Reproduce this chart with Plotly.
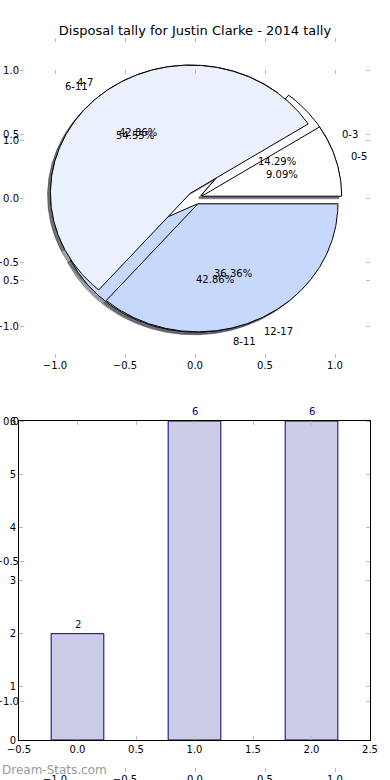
import numpy as np
import plotly.graph_objects as go

TITLE = "Disposal tally for Justin Clarke - 2014 tally"
WATERMARK = "Dream-Stats.com"

# two overlapping pies (same axes)
pie_a_labels = ["0-3", "4-7", "8-11"]
pie_a_values = [2, 6, 6]
pie_b_labels = ["0-5", "6-11", "12-17"]
pie_b_values = [1, 6, 4]
slice_colors = ["#ffffff", "#eaf1fd", "#c6d9fd"]

# bar chart
bar_categories = [0, 1, 2]
bar_values = [2, 6, 6]

pie_ticks = [-1.0, -0.5, 0.0, 0.5, 1.0]
bar_x_ticks = [-0.5, 0.0, 0.5, 1.0, 1.5, 2.0, 2.5]
bar_y_ticks = [0, 1, 2, 3, 4, 5, 6]

EXPLODE = 0.05
SHADOW = 0.02
LABEL_DIST = 1.1
PCT_DIST = 0.6

W, H = 390, 780
FONT = "DejaVu Sans"


def fmt(v, nd=1):
    return ("%.*f" % (nd, v)).replace("-", "\u2212")


def wedges(values):
    total = float(sum(values))
    out = []
    start = 0.0
    for v in values:
        frac = v / total
        t1, t2 = start * 360.0, (start + frac) * 360.0
        mid = np.radians((t1 + t2) / 2.0)
        cx, cy = EXPLODE * np.cos(mid), EXPLODE * np.sin(mid)
        th = np.radians(np.linspace(t1, t2, max(int(t2 - t1), 4) * 2))
        xs = np.concatenate([[cx], cx + np.cos(th), [cx]])
        ys = np.concatenate([[cy], cy + np.sin(th), [cy]])
        out.append(dict(xs=xs, ys=ys, mid=mid, cx=cx, cy=cy, frac=frac))
        start += frac
    return out


def shade(hexcol):
    r, g, b = (int(hexcol[i:i + 2], 16) for i in (1, 3, 5))
    return "rgba(%d,%d,%d,0.5)" % (0.3 * r, 0.3 * g, 0.3 * b)


fig = go.Figure()
pies = [(pie_a_labels, wedges(pie_a_values)), (pie_b_labels, wedges(pie_b_values))]

# shadows first (behind all wedges)
for labels, ws in pies:
    for i, w in enumerate(ws):
        c = shade(slice_colors[i])
        fig.add_trace(go.Scatter(x=w["xs"] - SHADOW, y=w["ys"] - SHADOW, mode="lines",
                                 fill="toself", fillcolor=c, line=dict(color=c, width=1),
                                 hoverinfo="skip", showlegend=False, xaxis="x", yaxis="y"))
# wedges
for labels, ws in pies:
    for i, w in enumerate(ws):
        fig.add_trace(go.Scatter(x=w["xs"], y=w["ys"], mode="lines", fill="toself",
                                 fillcolor=slice_colors[i], line=dict(color="black", width=1),
                                 hoverinfo="skip", showlegend=False, xaxis="x", yaxis="y"))

annotations = []
for labels, ws in pies:
    for lab, w in zip(labels, ws):
        xt = w["cx"] + LABEL_DIST * np.cos(w["mid"])
        yt = w["cy"] + LABEL_DIST * np.sin(w["mid"])
        annotations.append(dict(x=xt, y=yt, xref="x", yref="y", text=lab, showarrow=False,
                                xanchor="left" if xt > 0 else "right", yanchor="middle",
                                font=dict(family=FONT, size=10, color="black")))
        xp = w["cx"] + PCT_DIST * np.cos(w["mid"])
        yp = w["cy"] + PCT_DIST * np.sin(w["mid"])
        annotations.append(dict(x=xp, y=yp, xref="x", yref="y", text="%.2f%%" % (w["frac"] * 100),
                                showarrow=False, xanchor="center", yanchor="middle",
                                font=dict(family=FONT, size=10, color="black")))

# empty trace so the (empty) overlay axes pair is rendered
fig.add_trace(go.Scatter(x=[], y=[], mode="markers", hoverinfo="skip", showlegend=False,
                         xaxis="x2", yaxis="y2"))

# bars
fig.add_trace(go.Bar(x=bar_categories, y=bar_values, width=0.45,
                     marker=dict(color="#ccccE6", line=dict(color="#000080", width=1)),
                     hoverinfo="skip", showlegend=False, xaxis="x3", yaxis="y3"))
for cat, v in zip(bar_categories, bar_values):
    annotations.append(dict(x=cat, y=v, xref="x3", yref="y3", text=str(v), showarrow=False,
                            xanchor="center", yanchor="bottom", yshift=2,
                            font=dict(family=FONT, size=10, color="#000080")))


def xd(a, b):
    return [a / W, b / W]


def yd(top, bottom):
    return [1 - bottom / H, 1 - top / H]


tick_common = dict(ticks="inside", ticklen=4, tickwidth=1, tickcolor="#bbbbbb",
                   showgrid=False, zeroline=False, mirror="ticks", automargin=False,
                   tickfont=dict(family=FONT, size=10, color="black"),
                   fixedrange=True)

pie_text = [fmt(v) for v in pie_ticks]
layout_axes = dict(
    xaxis=dict(domain=xd(20, 370), range=[-1.25, 1.25], anchor="y", tickvals=pie_ticks,
               ticktext=pie_text, showline=False, **tick_common),
    yaxis=dict(domain=yd(38, 358), range=[-1.25, 1.25], anchor="x", tickvals=pie_ticks,
               ticktext=pie_text, showline=False, **tick_common),
    xaxis2=dict(domain=xd(20, 370), range=[-1.25, 1.25], anchor="y2", tickvals=pie_ticks,
                ticktext=pie_text, showline=False, **tick_common),
    yaxis2=dict(domain=yd(70, 772), range=[-1.25, 1.25], anchor="x2", tickvals=pie_ticks,
                ticktext=pie_text, showline=False, **tick_common),
    xaxis3=dict(domain=xd(19, 370), range=[-0.5, 2.5], anchor="y3", tickvals=bar_x_ticks,
                ticktext=[fmt(v) for v in bar_x_ticks], showline=True, linecolor="black",
                linewidth=1, **tick_common),
    yaxis3=dict(domain=yd(421, 740), range=[0, 6], anchor="x3", tickvals=bar_y_ticks,
                ticktext=[str(v) for v in bar_y_ticks], showline=True, linecolor="black",
                linewidth=1, **tick_common),
)

annotations.append(dict(x=0, y=1 - 770 / H, xref="paper", yref="paper", text=WATERMARK,
                        showarrow=False, xanchor="left", yanchor="middle",
                        font=dict(family=FONT, size=12, color="#999999")))

fig.update_layout(
    width=W, height=H, margin=dict(l=0, r=0, t=0, b=0, autoexpand=False),
    paper_bgcolor="white", plot_bgcolor="rgba(0,0,0,0)",
    title=dict(text=TITLE, x=0.5, xanchor="center", y=1 - 30 / H, yanchor="middle",
               automargin=False, font=dict(family=FONT, size=13, color="black")),
    annotations=annotations, showlegend=False,
    **layout_axes,
)

fig.write_html("out.html", config=dict(displayModeBar=False),
               post_script="document.body.style.margin='0';")
